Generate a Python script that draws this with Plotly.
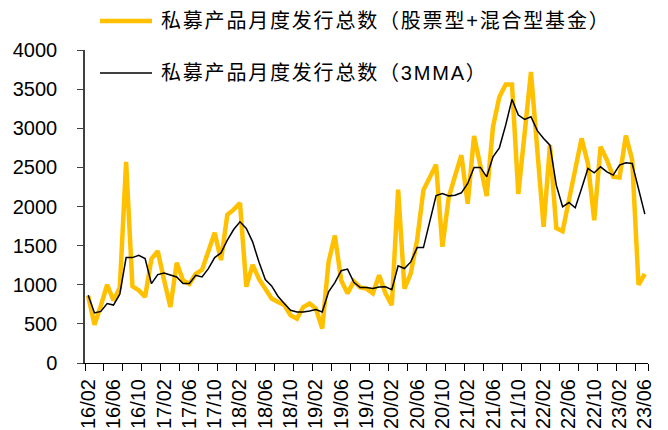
import pandas as pd
import plotly.graph_objects as go

# Monthly private fund issuance, Feb 2016 - Jun 2023
months = [p.strftime("%y/%m") for p in pd.period_range("2016-02", "2023-06", freq="M")]

issuance = [
    860, 490, 730, 1000, 800, 960, 2570, 980, 930, 845,
    1330, 1430, 1060, 715, 1280, 1055, 1010, 1140, 1190, 1425,
    1665, 1315, 1895, 1960, 2045, 975, 1255, 1075, 950, 825,
    780, 740, 610, 565, 715, 760, 695, 440, 1290, 1630,
    1055, 890, 1045, 965, 950, 890, 1120, 890, 740, 2215,
    950, 1145, 1570, 2210, 2370, 2535, 1485, 2115, 2390, 2655,
    2035, 2900, 2520, 2135, 3020, 3400, 3560, 3560, 2160, 2935,
    3720, 2720, 1740, 2785, 1725, 1685, 2080, 2480, 2870, 2550,
    1825, 2765, 2595, 2380, 2370, 2905, 2595, 1000, 1140,
]

issuance_3mma = [
    866, 640, 660, 760, 740, 880, 1347, 1347, 1377, 1335,
    1015, 1130, 1150, 1120, 1100, 1015, 1015, 1120, 1100, 1206,
    1347, 1407, 1569, 1706, 1804, 1719, 1548, 1290, 1066, 985,
    853, 759, 674, 652, 652, 665, 682, 652, 908, 1028,
    1180, 1200, 1030, 964, 964, 951, 972, 975, 938, 1241,
    1207, 1292, 1475, 1475, 1804, 2140, 2166, 2136, 2145, 2175,
    2294, 2499, 2499, 2379, 2635, 2750, 3040, 3369, 3168, 3113,
    3147, 2970, 2870, 2784, 2273, 1996, 2051, 1983, 2230, 2486,
    2430, 2507, 2443, 2401, 2529, 2558, 2550, 2226, 1902,
]

series_names = [
    "私募产品月度发行总数（股票型+混合型基金）",
    "私募产品月度发行总数（3MMA）",
]
y_ticks = [0, 500, 1000, 1500, 2000, 2500, 3000, 3500, 4000]

YELLOW = "#FFC000"
FONT = "Liberation Sans, Arial, Noto Sans CJK SC"

idx = list(range(len(months)))
label_idx = idx[::4]
label_text = [months[i] for i in label_idx]
# tick marks sit between categories, every third month, plus one at the axis end
minor_ticks = [i - 0.5 for i in idx[::3]] + [len(months) - 0.5]

fig = go.Figure()
fig.add_trace(go.Scatter(
    x=idx, y=issuance, mode="lines", name=series_names[0],
    line=dict(color=YELLOW, width=4.5), showlegend=False,
))
fig.add_trace(go.Scatter(
    x=idx, y=issuance_3mma, mode="lines", name=series_names[1],
    line=dict(color="#000000", width=1.5), showlegend=False,
))

L, R, T, B = 85, 20, 50, 67
W, H = 668, 430
pw, ph = W - L - R, H - T - B


def px_x(px):
    return (px - L) / pw


def px_y(py):
    return (H - B - py) / ph


# hand-placed legend: sample line + label for each series
legend_rows = [(21, YELLOW, 4.5), (73, "#000000", 1.5)]
for (py, color, width), name in zip(legend_rows, series_names):
    fig.add_shape(type="line", xref="paper", yref="paper",
                  x0=px_x(100), x1=px_x(152), y0=px_y(py), y1=px_y(py),
                  line=dict(color=color, width=width))
    fig.add_annotation(xref="paper", yref="paper", x=px_x(159), y=px_y(py),
                       xanchor="left", yanchor="middle", showarrow=False,
                       text='<span style="letter-spacing:1.8px">' + name + "</span>",
                       font=dict(family=FONT, size=20, color="#000000"))

fig.update_layout(
    width=W, height=H,
    margin=dict(l=L, r=R, t=T, b=B, pad=0, autoexpand=False),
    paper_bgcolor="white", plot_bgcolor="white",
    font=dict(family=FONT, size=20, color="#000000"),
    showlegend=False,
)
fig.update_xaxes(
    automargin=False,
    range=[-0.5, len(months) - 0.5],
    tickmode="array", tickvals=label_idx, ticktext=label_text, tickangle=-90,
    ticks="outside", ticklen=7, tickcolor="rgba(0,0,0,0)",
    minor=dict(tickmode="array", tickvals=minor_ticks, ticks="outside",
               ticklen=7, tickcolor="#000000", tickwidth=1),
    showline=True, linecolor="#000000", linewidth=1,
    showgrid=False, zeroline=False,
    tickfont=dict(family=FONT, size=20, color="#000000"),
)
fig.update_yaxes(
    automargin=False,
    range=[0, 4000], tickmode="array", tickvals=y_ticks,
    ticks="outside", ticklen=6, tickcolor="#404040",
    showline=True, linecolor="#404040", linewidth=1.5,
    showgrid=False, zeroline=False, ticklabelstandoff=16,
    tickfont=dict(family=FONT, size=20, color="#000000"),
)

fig.write_html("out.html")
